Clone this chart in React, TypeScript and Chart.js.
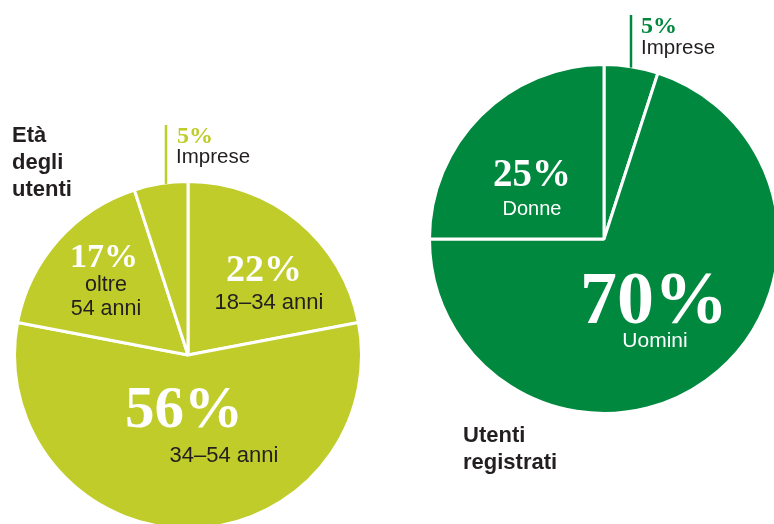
import React, { useEffect, useRef } from "react";
import { Chart, registerables } from "chart.js";

Chart.register(...registerables);

// ---- data ----
const ageLabels = ["18–34 anni", "34–54 anni", "oltre 54 anni", "Imprese"];
const ageValues = [22, 56, 17, 5];
const userLabels = ["Imprese", "Uomini", "Donne"];
const userValues = [5, 70, 25];

const LIME = "#BFCC2A";
const GREEN = "#00883F";
const DARK = "#231F20";
const SANS = "'Liberation Sans', Arial, sans-serif";
const SERIF = "'Liberation Serif', 'Times New Roman', serif";

const W = 774;
const H = 524;

const leaderPlugin = {
  id: "leader",
  afterDatasetsDraw(chart: any) {
    const o = chart.options.plugins.leader;
    if (!o) return;
    const arc = chart.getDatasetMeta(0).data[0];
    const R = arc.outerRadius;
    const x = arc.x + o.dx;
    const yEdge = arc.y - Math.sqrt(R * R - o.dx * o.dx);
    const ctx = chart.ctx;
    ctx.save();
    ctx.strokeStyle = o.color;
    ctx.lineWidth = 2.5;
    ctx.beginPath();
    ctx.moveTo(x, o.top);
    ctx.lineTo(x, yEdge + 1);
    ctx.stroke();
    ctx.restore();
  },
};

function PieCanvas(props: {
  labels: string[];
  values: number[];
  color: string;
  radius: number;
  padding: { left: number; right: number; top: number; bottom: number };
  leader: { dx: number; top: number; color: string };
}) {
  const ref = useRef<HTMLCanvasElement | null>(null);
  useEffect(() => {
    if (!ref.current) return;
    const chart = new Chart(ref.current, {
      type: "pie",
      data: {
        labels: props.labels,
        datasets: [
          {
            data: props.values,
            backgroundColor: props.color,
            borderColor: "#ffffff",
            borderWidth: 3,
            hoverOffset: 0,
          } as any,
        ],
      },
      options: {
        responsive: false,
        animation: false,
        events: [],
        radius: props.radius,
        layout: { padding: props.padding },
        plugins: {
          legend: { display: false },
          tooltip: { enabled: false },
          leader: props.leader,
        } as any,
      } as any,
      plugins: [leaderPlugin],
    });
    return () => chart.destroy();
  }, []);
  return (
    <canvas
      ref={ref}
      width={W}
      height={H}
      style={{ position: "absolute", left: 0, top: 0, width: W, height: H }}
    />
  );
}

function Txt(props: {
  x: number;
  base: number;
  size: number;
  serif?: boolean;
  bold?: boolean;
  color: string;
  center?: boolean;
  children: React.ReactNode;
}) {
  const k = props.serif ? 0.8375 : 0.8465;
  const top = props.base - k * props.size;
  const style: React.CSSProperties = {
    position: "absolute",
    top,
    left: props.center ? props.x - 200 : props.x,
    width: props.center ? 400 : undefined,
    textAlign: props.center ? "center" : "left",
    fontFamily: props.serif ? SERIF : SANS,
    fontWeight: props.bold ? 700 : 400,
    fontSize: props.size,
    lineHeight: `${props.size}px`,
    whiteSpace: "nowrap",
    color: props.color,
  };
  return <div style={style}>{props.children}</div>;
}

export default function App() {
  return (
    <div
      style={{
        position: "absolute",
        left: 0,
        top: 0,
        width: W,
        height: H,
        overflow: "hidden",
        background: "#ffffff",
      }}
    >
      <PieCanvas
        labels={ageLabels}
        values={ageValues}
        color={LIME}
        radius={173.5}
        padding={{ left: 0, right: W - 376, top: 186, bottom: 0 }}
        leader={{ dx: -22, top: 125, color: LIME }}
      />
      <PieCanvas
        labels={userLabels}
        values={userValues}
        color={GREEN}
        radius={174.5}
        padding={{ left: 434, right: 0, top: 0, bottom: 46 }}
        leader={{ dx: 27, top: 15, color: GREEN }}
      />

      {/* left titles */}
      <Txt x={12} base={143} size={22} bold color={DARK}>Età</Txt>
      <Txt x={12} base={170} size={22} bold color={DARK}>degli</Txt>
      <Txt x={12} base={197} size={22} bold color={DARK}>utenti</Txt>

      {/* left: Imprese */}
      <Txt x={177} base={143} size={24} serif bold color={LIME}>{ageValues[3]}%</Txt>
      <Txt x={176} base={163} size={20.5} color={DARK}>{ageLabels[3]}</Txt>

      {/* left: 18–34 */}
      <Txt x={264} base={281} size={38} serif bold color="#ffffff" center>{ageValues[0]}%</Txt>
      <Txt x={269} base={310} size={22} color={DARK} center>{ageLabels[0]}</Txt>

      {/* left: oltre 54 */}
      <Txt x={104} base={267} size={34} serif bold color="#ffffff" center>{ageValues[2]}%</Txt>
      <Txt x={106} base={292} size={21.5} color={DARK} center>oltre</Txt>
      <Txt x={106} base={316} size={21.5} color={DARK} center>54 anni</Txt>

      {/* left: 34–54 */}
      <Txt x={184} base={427} size={59} serif bold color="#ffffff" center>{ageValues[1]}%</Txt>
      <Txt x={224} base={463} size={22} color={DARK} center>{ageLabels[1]}</Txt>

      {/* right: Imprese */}
      <Txt x={641} base={33} size={24} serif bold color={GREEN}>{userValues[0]}%</Txt>
      <Txt x={641} base={54} size={20.5} color={DARK}>{userLabels[0]}</Txt>

      {/* right: Donne */}
      <Txt x={532} base={186} size={39} serif bold color="#ffffff" center>{userValues[2]}%</Txt>
      <Txt x={532} base={215} size={20} color="#ffffff" center>{userLabels[2]}</Txt>

      {/* right: Uomini */}
      <Txt x={654} base={323} size={74} serif bold color="#ffffff" center>{userValues[1]}%</Txt>
      <Txt x={655} base={347} size={21} color="#ffffff" center>{userLabels[1]}</Txt>

      {/* right title */}
      <Txt x={463} base={443} size={22} bold color={DARK}>Utenti</Txt>
      <Txt x={463} base={470} size={22} bold color={DARK}>registrati</Txt>
    </div>
  );
}
